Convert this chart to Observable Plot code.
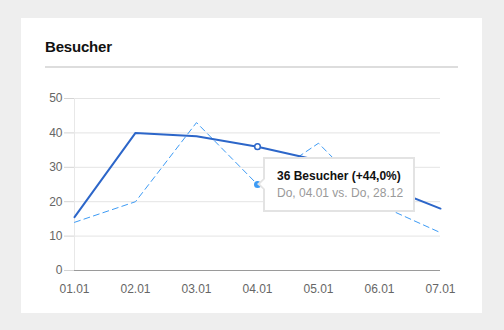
<!DOCTYPE html>
<html>
<head>
<meta charset="utf-8">
<script src="https://cdn.jsdelivr.net/npm/d3@7"></script>
<script src="https://cdn.jsdelivr.net/npm/@observablehq/plot@0.6"></script>
<style>
  html, body { margin: 0; padding: 0; background: #eeeeee; width: 504px; height: 330px; overflow: hidden; }
  #card { position: absolute; left: 21px; top: 18px; width: 461px; height: 295px; background: #fff; }
  #title { position: absolute; left: 45px; top: 39px; font: bold 15px "Liberation Sans", Arial, sans-serif; line-height: 15px; color: #111; letter-spacing: -0.2px; }
  #rule { position: absolute; left: 45px; top: 66px; width: 413px; height: 2px; background: #dddddd; }
  #chart { position: absolute; left: 0; top: 0; }
  #tip { position: absolute; left: 263px; top: 157px; width: 148px; height: 51px; border: 2px solid #e3e3e3; background: #fff;
         font: 12px "Liberation Sans", Arial, sans-serif; line-height: 16px; padding: 0; box-sizing: content-box; }
  #tip .l1 { position: absolute; left: 12px; top: 9px; font-weight: bold; color: #111; white-space: nowrap; }
  #tip .l2 { position: absolute; left: 12px; top: 26px; color: #999; white-space: nowrap; }
  #tip:before { content: ""; position: absolute; left: -8px; top: 18px; border-style: solid; border-width: 7px 8px 7px 0; border-color: transparent #e3e3e3 transparent transparent; }
  #tip:after { content: ""; position: absolute; left: -5px; top: 19px; border-style: solid; border-width: 6px 6px 6px 0; border-color: transparent #fff transparent transparent; }
</style>
</head>
<body>
<div id="card"></div>
<div id="title">Besucher</div>
<div id="rule"></div>
<div id="chart"></div>
<div id="tip"><div class="l1">36 Besucher (+44,0%)</div><div class="l2">Do, 04.01 vs. Do, 28.12</div></div>
<script>
const dates = ["01.01", "02.01", "03.01", "04.01", "05.01", "06.01", "07.01"];
const visitorsCurrent = [15.5, 40, 39, 36, 32, 25, 18];
const visitorsPrevious = [14, 20, 43, 25, 37, 19, 11];
const yTicks = [0, 10, 20, 30, 40, 50];
const highlightIndex = 3;

const cur = dates.map((d, i) => ({date: d, value: visitorsCurrent[i]}));
const prev = dates.map((d, i) => ({date: d, value: visitorsPrevious[i]}));

const colorCurrent = "#2c66c9";
const colorPrevious = "#3d9bf5";

const chart = Plot.plot({
  width: 504,
  height: 330,
  marginLeft: 74,
  marginRight: 64,
  marginTop: 98,
  marginBottom: 60,
  style: {background: "transparent", fontFamily: "'Liberation Sans', Arial, sans-serif", fontSize: "12px", color: "#666", overflow: "visible"},
  x: {type: "point", domain: dates, padding: 0},
  y: {domain: [0, 50]},
  marks: [
    Plot.gridY(yTicks.filter(t => t > 0), {stroke: "#e4e4e4", strokeOpacity: 1}),
    Plot.ruleX([dates[0]], {y1: 0, y2: 50, stroke: "#e8e8e8"}),
    Plot.axisY(yTicks, {tickSize: 10, text: null, stroke: "#d4d4d4", strokeOpacity: 1, label: null}),
    Plot.axisY(yTicks, {tickSize: 0, tickPadding: 12, fill: "#666", label: null}),
    Plot.ruleY([0], {stroke: "#9a9a9a"}),
    Plot.axisX({tickSize: 0, tickPadding: 14, fill: "#666", label: null}),
    Plot.line(prev, {x: "date", y: "value", stroke: colorPrevious, strokeWidth: 1, strokeDasharray: "6,4"}),
    Plot.line(cur, {x: "date", y: "value", stroke: colorCurrent, strokeWidth: 2}),
    Plot.dot([prev[highlightIndex]], {x: "date", y: "value", fill: colorPrevious, r: 3.5}),
    Plot.dot([cur[highlightIndex]], {x: "date", y: "value", fill: "#fff", stroke: colorCurrent, strokeWidth: 1.5, r: 2.8})
  ]
});
document.getElementById("chart").appendChild(chart);
</script>
</body>
</html>
